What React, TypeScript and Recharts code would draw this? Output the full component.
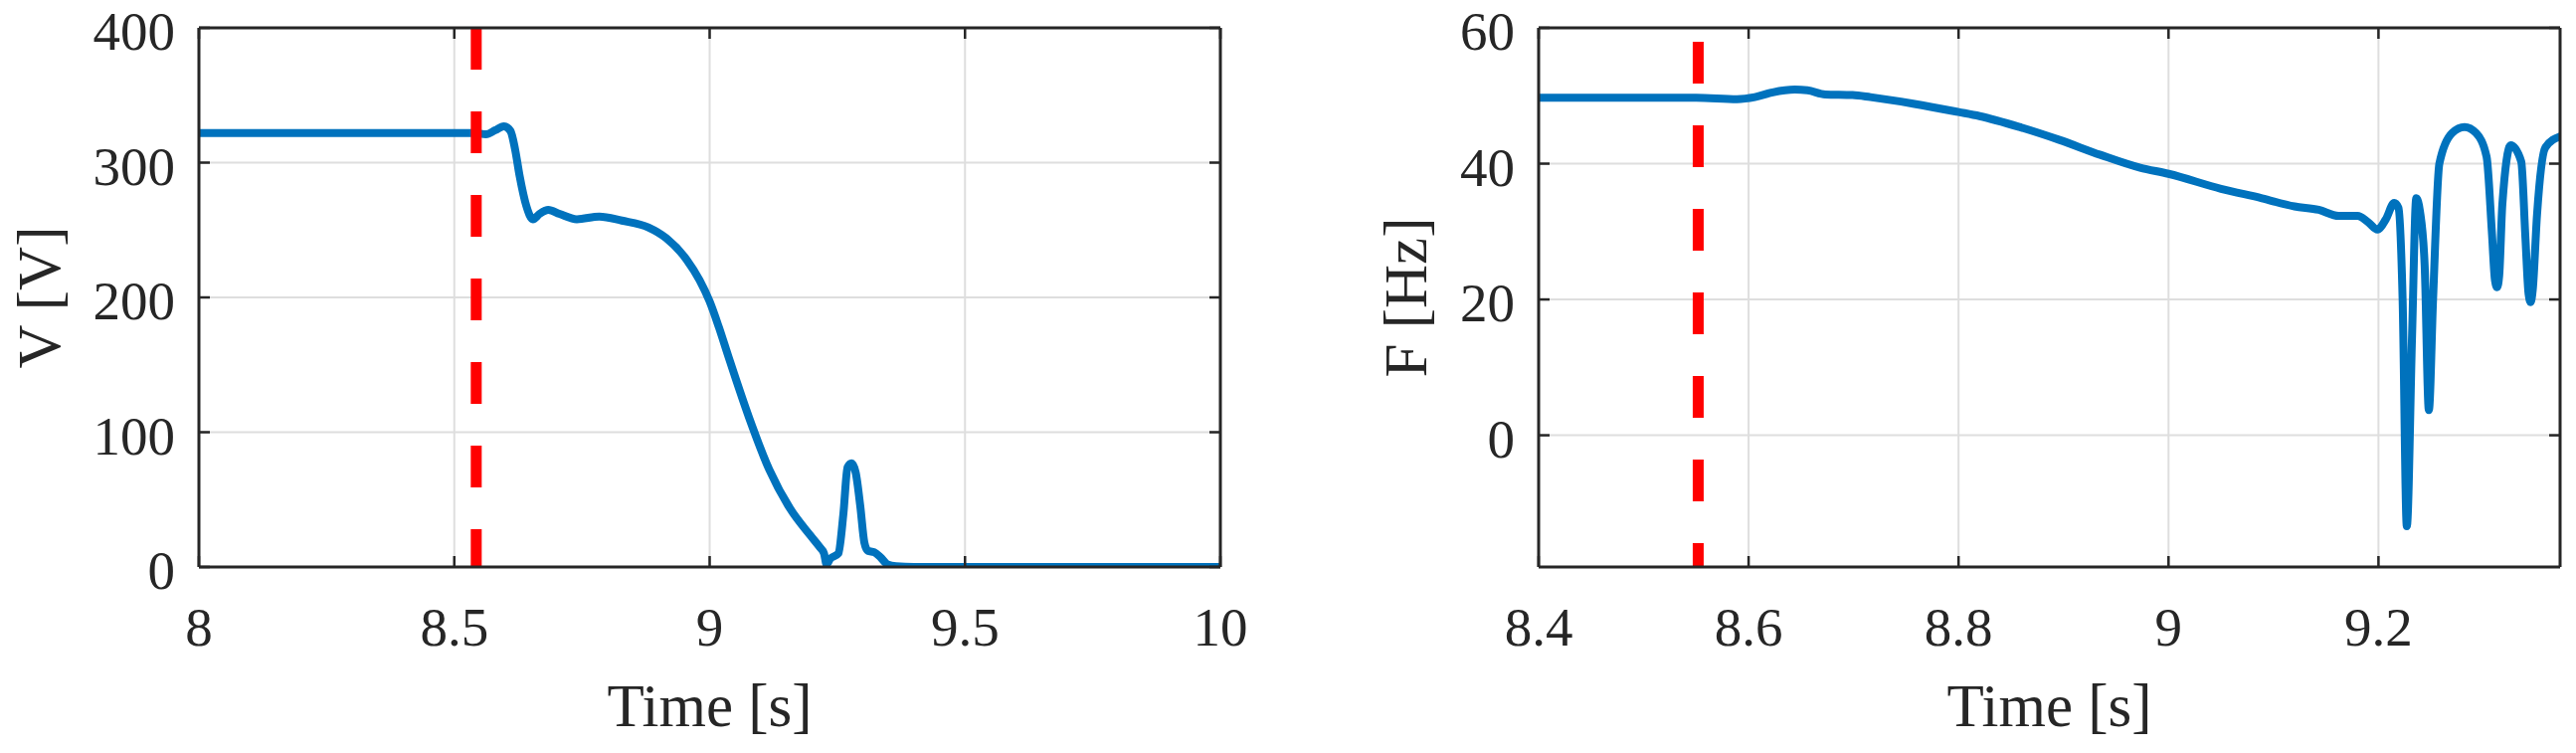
import React from 'react';
import { LineChart, Line, XAxis, YAxis, CartesianGrid, ReferenceLine, Label } from 'recharts';

// ---------- Data ----------
const voltageTime = [8.0, 8.54, 8.562, 8.58, 8.597, 8.61, 8.619, 8.628, 8.641, 8.654, 8.667, 8.684, 8.706, 8.74, 8.784, 8.828, 8.88, 8.915, 8.955, 8.98, 9.0, 9.018, 9.036, 9.077, 9.117, 9.158, 9.198, 9.215, 9.224, 9.229, 9.236, 9.252, 9.262, 9.27, 9.278, 9.286, 9.295, 9.303, 9.31, 9.322, 9.335, 9.348, 9.365, 9.4, 10.0];
const voltageValues = [322, 322, 321, 324, 327, 323.5, 310, 290, 268, 258, 262, 265, 262, 258, 260, 257, 252, 244, 228, 213, 197, 178, 157, 111, 72, 43, 23, 15, 10, 2, 6, 10, 40, 74, 77, 70, 45, 18, 12, 11, 7, 2, 0.5, 0, 0];

const freqTime = [8.4, 8.55, 8.589, 8.606, 8.623, 8.644, 8.656, 8.673, 8.699, 8.716, 8.758, 8.8, 8.82, 8.858, 8.896, 8.935, 8.973, 9.0, 9.05, 9.089, 9.12, 9.143, 9.162, 9.18, 9.19, 9.199, 9.207, 9.215, 9.219, 9.223, 9.227, 9.232, 9.236, 9.2395, 9.244, 9.248, 9.252, 9.258, 9.27, 9.282, 9.293, 9.303, 9.308, 9.311, 9.313, 9.315, 9.318, 9.326, 9.336, 9.34, 9.343, 9.345, 9.347, 9.351, 9.359, 9.373];
const freqValues = [49.7, 49.7, 49.5, 49.8, 50.5, 50.9, 50.8, 50.2, 50.1, 49.8, 48.8, 47.6, 47.0, 45.4, 43.5, 41.3, 39.4, 38.5, 36.3, 34.9, 33.7, 33.2, 32.3, 32.3, 31.4, 30.3, 31.8, 34.2, 33.5, 20, -13.4, 14.7, 34.9, 33, 25, 3.7, 20, 40, 44.5, 45.4, 44.5, 41.0, 30, 22.8, 21.8, 23.5, 34, 42.7, 40.3, 29, 20.8, 19.6, 21.5, 32.4, 42.4, 44.0];

const voltageXTicks = [8, 8.5, 9, 9.5, 10];
const voltageYTicks = [0, 100, 200, 300, 400];
const freqXTicks = [8.4, 8.6, 8.8, 9, 9.2];
const freqYTicks = [0, 20, 40, 60];

const voltageXDomain: [number, number] = [8, 10];
const voltageYDomain: [number, number] = [0, 400];
const freqXDomain: [number, number] = [8.4, 9.373];
const freqYDomain: [number, number] = [-19.4, 60];

const voltageFaultTime = 8.543;
const freqFaultTime = 8.552;

const voltageData = voltageTime.map((t, i) => ({ t, v: voltageValues[i] }));
const freqData = freqTime.map((t, i) => ({ t, v: freqValues[i] }));

// ---------- Styles ----------
const BLUE = '#0072BD';
const RED = '#FF0000';
const GRID = '#dedede';
const AXIS = '#262626';
const FONT = '"Liberation Serif", "Times New Roman", serif';
const TICK_FONT = 55;
const TITLE_FONT = 61;
const TICK_LEN = 11;

const BottomTick = (p: any) => (
  <g>
    <line x1={p.x} x2={p.x} y1={p.y} y2={p.y - TICK_LEN} stroke={AXIS} strokeWidth={2.5} />
    <text x={p.x} y={p.y + 79} textAnchor="middle" fontSize={TICK_FONT} fontFamily={FONT} fill={AXIS}>
      {String(p.payload.value)}
    </text>
  </g>
);
const TopTick = (p: any) => (
  <line x1={p.x} x2={p.x} y1={p.y} y2={p.y + TICK_LEN} stroke={AXIS} strokeWidth={2.5} />
);
const LeftTick = (p: any) => (
  <g>
    <line x1={p.x} x2={p.x + TICK_LEN} y1={p.y} y2={p.y} stroke={AXIS} strokeWidth={2.5} />
    <text x={p.x - 24} y={p.y + 22} textAnchor="end" fontSize={TICK_FONT} fontFamily={FONT} fill={AXIS}>
      {String(p.payload.value)}
    </text>
  </g>
);
const RightTick = (p: any) => (
  <line x1={p.x} x2={p.x - TICK_LEN} y1={p.y} y2={p.y} stroke={AXIS} strokeWidth={2.5} />
);

const XTitle = (text: string) => (props: any) => {
  const vb = props.viewBox || {};
  return (
    <text x={vb.x + vb.width / 2} y={vb.y + 160} textAnchor="middle" fontSize={TITLE_FONT} fontFamily={FONT} fill={AXIS}>
      {text}
    </text>
  );
};
const YTitle = (text: string, dx: number) => (props: any) => {
  const vb = props.viewBox || {};
  const cx = vb.x + vb.width - dx;
  const cy = vb.y + vb.height / 2;
  return (
    <text x={cx} y={cy} transform={`rotate(-90, ${cx}, ${cy})`} textAnchor="middle" fontSize={TITLE_FONT} fontFamily={FONT} fill={AXIS}>
      {text}
    </text>
  );
};

type PanelProps = {
  data: { t: number; v: number }[];
  xDomain: [number, number];
  yDomain: [number, number];
  xTicks: number[];
  yTicks: number[];
  fault: number;
  dashOffset: number;
  yTitle: string;
  yTitleDx: number;
  width: number;
  margin: { top: number; left: number; right: number; bottom: number };
};

const Panel = (pp: PanelProps) => (
  <LineChart width={pp.width} height={757} data={pp.data} margin={pp.margin}>
    <CartesianGrid stroke={GRID} strokeWidth={2} />
    <XAxis
      dataKey="t"
      type="number"
      domain={pp.xDomain}
      ticks={pp.xTicks}
      interval={0}
      allowDataOverflow
      height={1}
      tickSize={0}
      tickMargin={0}
      tickLine={false}
      axisLine={{ stroke: AXIS, strokeWidth: 3 }}
      tick={BottomTick}
    >
      <Label content={XTitle('Time [s]')} />
    </XAxis>
    <XAxis
      xAxisId="top"
      orientation="top"
      dataKey="t"
      type="number"
      domain={pp.xDomain}
      ticks={pp.xTicks}
      interval={0}
      allowDataOverflow
      height={1}
      tickSize={0}
      tickMargin={0}
      tickLine={false}
      axisLine={{ stroke: AXIS, strokeWidth: 3 }}
      tick={TopTick}
    />
    <YAxis
      type="number"
      domain={pp.yDomain}
      ticks={pp.yTicks}
      interval={0}
      allowDataOverflow
      width={1}
      tickSize={0}
      tickMargin={0}
      tickLine={false}
      axisLine={{ stroke: AXIS, strokeWidth: 3 }}
      tick={LeftTick}
    >
      <Label content={YTitle(pp.yTitle, pp.yTitleDx)} />
    </YAxis>
    <YAxis
      yAxisId="right"
      orientation="right"
      type="number"
      domain={pp.yDomain}
      ticks={pp.yTicks}
      interval={0}
      allowDataOverflow
      width={1}
      tickSize={0}
      tickMargin={0}
      tickLine={false}
      axisLine={{ stroke: AXIS, strokeWidth: 3 }}
      tick={RightTick}
    />
    <Line
      dataKey="v"
      type="monotone"
      stroke={BLUE}
      strokeWidth={8}
      dot={false}
      activeDot={false}
      strokeLinejoin="round"
      strokeLinecap="round"
      isAnimationActive={false}
    />
    <ReferenceLine
      segment={[
        { x: pp.fault, y: pp.yDomain[1] },
        { x: pp.fault, y: pp.yDomain[0] },
      ]}
      stroke={RED}
      strokeWidth={11}
      strokeDasharray="42 42"
      strokeDashoffset={pp.dashOffset}
      ifOverflow="visible"
    />
  </LineChart>
);

export default function App() {
  return (
    <div style={{ position: 'absolute', left: 0, top: 0, width: 2590, height: 757, background: '#fff', overflow: 'hidden' }}>
      <div style={{ position: 'absolute', left: 0, top: 0 }}>
        <Panel
          data={voltageData}
          xDomain={voltageXDomain}
          yDomain={voltageYDomain}
          xTicks={voltageXTicks}
          yTicks={voltageYTicks}
          fault={voltageFaultTime}
          dashOffset={0}
          yTitle="V [V]"
          yTitleDx={140}
          width={1300}
          margin={{ top: 27, left: 199, right: 72, bottom: 186 }}
        />
      </div>
      <div style={{ position: 'absolute', left: 1300, top: 0 }}>
        <Panel
          data={freqData}
          xDomain={freqXDomain}
          yDomain={freqYDomain}
          xTicks={freqXTicks}
          yTicks={freqYTicks}
          fault={freqFaultTime}
          dashOffset={70}
          yTitle="F [Hz]"
          yTitleDx={113}
          width={1290}
          margin={{ top: 27, left: 246, right: 15, bottom: 186 }}
        />
      </div>
    </div>
  );
}
